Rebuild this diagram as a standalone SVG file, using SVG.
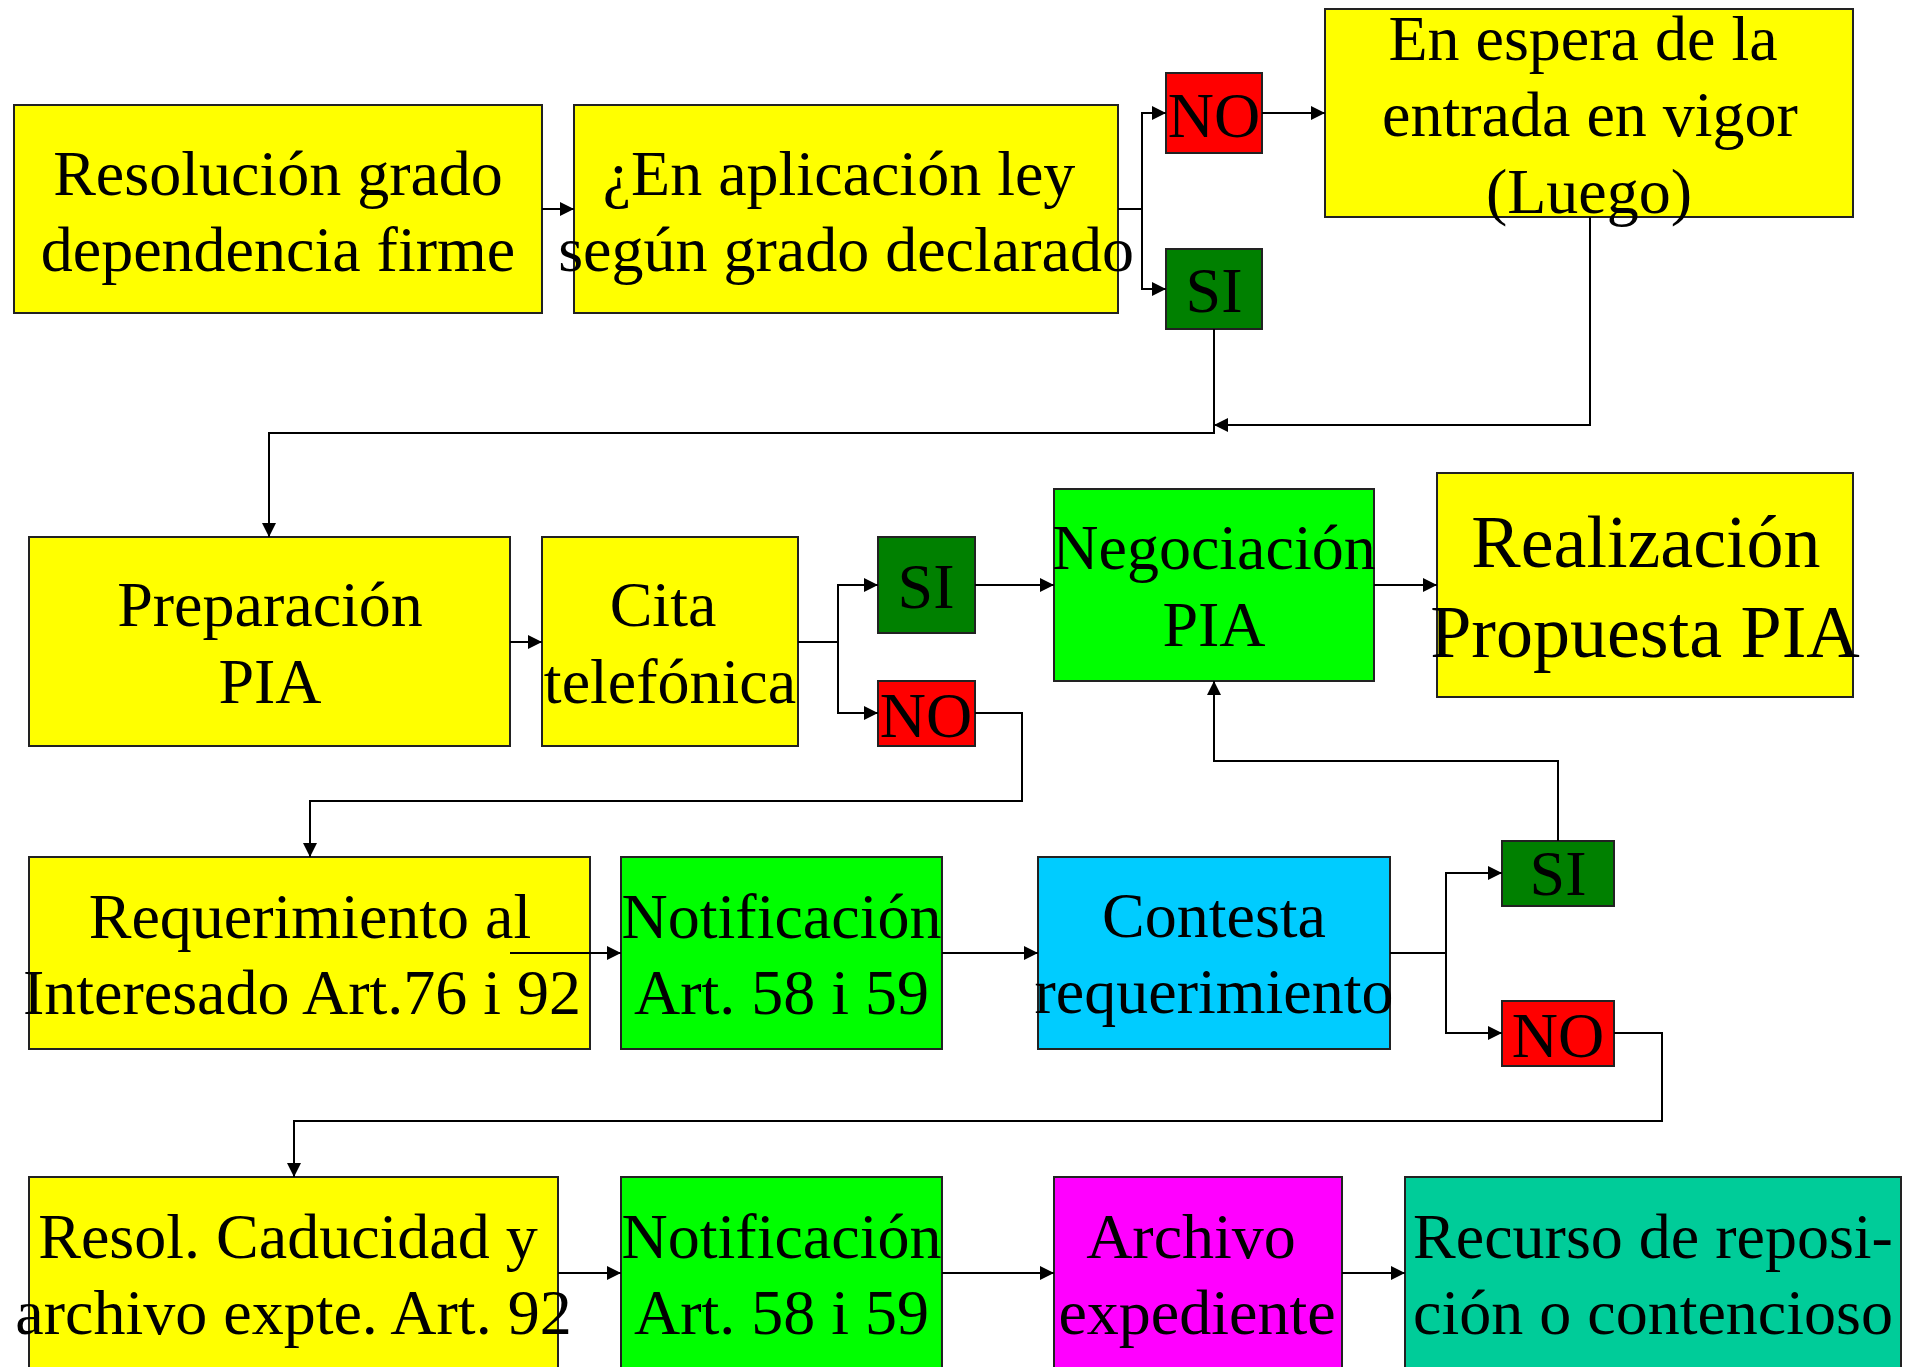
<svg xmlns="http://www.w3.org/2000/svg" width="1914" height="1367" viewBox="0 0 1914 1367">
<style>
.box{stroke:#222;stroke-width:2}
.y{fill:#FFFF00}.g{fill:#00FF00}.dg{fill:#008000}.r{fill:#FF0000}.c{fill:#00CCFF}.m{fill:#FF00FF}.t{fill:#00CC99}
text{font-family:"Liberation Serif","Times New Roman",serif;font-size:64px;fill:#000;text-anchor:middle}
.big{font-size:74px}
.cn path{fill:none;stroke:#000;stroke-width:2}
</style>
<defs>
<marker id="ah" markerWidth="14" markerHeight="14" refX="14" refY="7" orient="auto" markerUnits="userSpaceOnUse"><path d="M0,0 L14,7 L0,14 z" fill="#000"/></marker>
</defs>
<rect width="1914" height="1367" fill="#fff"/>
<g id="n-resolucion"><rect class="box y" x="14" y="105" width="528" height="208"/><text x="278" y="195">Resolución grado</text><text x="278" y="271">dependencia firme</text></g>
<g id="n-aplicacion"><rect class="box y" x="574" y="105" width="544" height="208"/><text x="839" y="195">¿En aplicación ley</text><text x="846" y="271">según grado declarado</text></g>
<g id="n-no1"><rect class="box r" x="1166" y="73" width="96" height="80"/><text x="1214" y="137">NO</text></g>
<g id="n-si1"><rect class="box dg" x="1166" y="249" width="96" height="80"/><text x="1214" y="312">SI</text></g>
<g id="n-espera"><rect class="box y" x="1325" y="9" width="528" height="208"/><text x="1583" y="60">En espera de la</text><text x="1590" y="136">entrada en vigor</text><text x="1589" y="213">(Luego)</text></g>
<g id="n-preparacion"><rect class="box y" x="29" y="537" width="481" height="209"/><text x="270" y="626">Preparación</text><text x="270" y="703">PIA</text></g>
<g id="n-cita"><rect class="box y" x="542" y="537" width="256" height="209"/><text x="663" y="626">Cita</text><text x="670" y="703">telefónica</text></g>
<g id="n-si2"><rect class="box dg" x="878" y="537" width="97" height="96"/><text x="926" y="608">SI</text></g>
<g id="n-no2"><rect class="box r" x="878" y="681" width="97" height="65"/><text x="926" y="737">NO</text></g>
<g id="n-negociacion"><rect class="box g" x="1054" y="489" width="320" height="192"/><text x="1214" y="569">Negociación</text><text x="1214" y="646">PIA</text></g>
<g id="n-realizacion"><rect class="box y" x="1437" y="473" width="416" height="224"/><text class="big" x="1646" y="567">Realización</text><text class="big" x="1645" y="657">Propuesta PIA</text></g>
<g id="n-requerimiento"><rect class="box y" x="29" y="857" width="561" height="192"/><text x="310" y="938">Requerimiento al</text><text x="302" y="1014">Interesado Art.76 i 92</text></g>
<g id="n-notif1"><rect class="box g" x="621" y="857" width="321" height="192"/><text x="781.5" y="938">Notificación</text><text x="781.5" y="1014">Art. 58 i 59</text></g>
<g id="n-contesta"><rect class="box c" x="1038" y="857" width="352" height="192"/><text x="1214" y="937">Contesta</text><text x="1214" y="1013">requerimiento</text></g>
<g id="n-si3"><rect class="box dg" x="1502" y="841" width="112" height="65"/><text x="1558" y="895">SI</text></g>
<g id="n-no3"><rect class="box r" x="1502" y="1001" width="112" height="65"/><text x="1558" y="1057">NO</text></g>
<g id="n-caducidad"><rect class="box y" x="29" y="1177" width="529" height="200"/><text x="288" y="1258">Resol. Caducidad y</text><text x="293.5" y="1334">archivo expte. Art. 92</text></g>
<g id="n-notif2"><rect class="box g" x="621" y="1177" width="321" height="200"/><text x="781.5" y="1258">Notificación</text><text x="781.5" y="1334">Art. 58 i 59</text></g>
<g id="n-archivo"><rect class="box m" x="1054" y="1177" width="288" height="200"/><text x="1191" y="1258">Archivo</text><text x="1197" y="1334">expediente</text></g>
<g id="n-recurso"><rect class="box t" x="1405" y="1177" width="496" height="200"/><text x="1653" y="1258">Recurso de reposi-</text><text x="1653" y="1334">ción o contencioso</text></g>
<g id="connectors" class="cn">
<path d="M542,209 H574" marker-end="url(#ah)"/>
<path d="M1118,209 H1142"/>
<path d="M1142,209 V113 H1166" marker-end="url(#ah)"/>
<path d="M1142,209 V289 H1166" marker-end="url(#ah)"/>
<path d="M1262,113 H1325" marker-end="url(#ah)"/>
<path d="M1214,329 V433 H269 V537" marker-end="url(#ah)"/>
<path d="M1590,217 V425 H1214" marker-end="url(#ah)"/>
<path d="M510,642 H542" marker-end="url(#ah)"/>
<path d="M798,642 H838"/>
<path d="M838,642 V585 H878" marker-end="url(#ah)"/>
<path d="M838,642 V713 H878" marker-end="url(#ah)"/>
<path d="M975,585 H1054" marker-end="url(#ah)"/>
<path d="M1374,585 H1437" marker-end="url(#ah)"/>
<path d="M975,713 H1022 V801 H310 V857" marker-end="url(#ah)"/>
<path d="M510,953 H621" marker-end="url(#ah)"/>
<path d="M942,953 H1038" marker-end="url(#ah)"/>
<path d="M1390,953 H1446"/>
<path d="M1446,953 V873 H1502" marker-end="url(#ah)"/>
<path d="M1446,953 V1033 H1502" marker-end="url(#ah)"/>
<path d="M1558,841 V761 H1214 V681" marker-end="url(#ah)"/>
<path d="M1614,1033 H1662 V1121 H294 V1177" marker-end="url(#ah)"/>
<path d="M558,1273 H621" marker-end="url(#ah)"/>
<path d="M942,1273 H1054" marker-end="url(#ah)"/>
<path d="M1342,1273 H1405" marker-end="url(#ah)"/>
</g>
</svg>
